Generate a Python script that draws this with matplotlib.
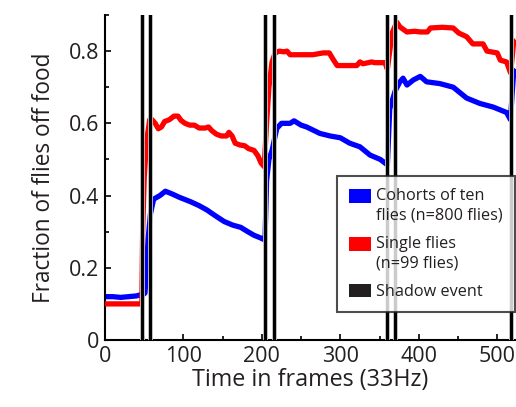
import matplotlib
matplotlib.use("Agg")
import matplotlib.pyplot as plt
import matplotlib.patheffects as pe
from matplotlib.patches import Patch, Rectangle
from matplotlib.legend_handler import HandlerBase
from matplotlib.ticker import MultipleLocator

# Fraction of flies off food over time (frames at 33 Hz)
cohort_frames = [0, 10, 20, 30, 40, 45, 48, 51, 55, 58, 62, 70, 77, 85, 95, 109, 120, 130,
                 140, 152, 163, 173, 182, 190, 198, 204, 206, 209, 213, 219, 225, 236, 241,
                 250, 257, 274, 287, 300, 312, 325, 338, 351, 357, 360, 363, 370, 376, 380,
                 385, 393, 402, 410, 427, 444, 461, 478, 495, 512, 517, 519, 521, 524]
cohort_vals = [0.12, 0.12, 0.118, 0.12, 0.122, 0.125, 0.125, 0.13, 0.28, 0.35, 0.39, 0.40, 0.412,
               0.405, 0.395, 0.383, 0.372, 0.36, 0.345, 0.328, 0.318, 0.312, 0.30, 0.29, 0.283,
               0.277, 0.44, 0.50, 0.525, 0.586, 0.60, 0.60, 0.607, 0.595, 0.59, 0.572, 0.565,
               0.56, 0.545, 0.535, 0.512, 0.50, 0.49, 0.485, 0.64, 0.69, 0.715, 0.725, 0.706,
               0.72, 0.73, 0.715, 0.71, 0.70, 0.67, 0.655, 0.645, 0.63, 0.61, 0.68, 0.74, 0.75]

single_frames = [0, 47, 48, 50, 53, 57, 60, 64, 68, 72, 76, 82, 88, 93, 97, 102, 108, 114, 120,
                 128, 132, 136, 142, 148, 155, 158, 162, 166, 172, 178, 183, 190, 195, 199, 203,
                 206, 209, 213, 217, 222, 228, 232, 236, 245, 255, 265, 278, 286, 290, 296, 305,
                 321, 325, 329, 340, 344, 357, 360, 363, 366, 372, 376, 385, 395, 402, 411, 415,
                 430, 444, 451, 461, 469, 482, 487, 500, 504, 512, 517, 519, 521, 524]
single_vals = [0.10, 0.10, 0.30, 0.45, 0.55, 0.61, 0.61, 0.60, 0.585, 0.59, 0.605, 0.61, 0.62,
               0.62, 0.608, 0.60, 0.595, 0.595, 0.587, 0.587, 0.59, 0.58, 0.57, 0.565, 0.565,
               0.575, 0.565, 0.545, 0.54, 0.538, 0.53, 0.525, 0.51, 0.49, 0.48, 0.60, 0.70,
               0.77, 0.795, 0.80, 0.798, 0.80, 0.79, 0.79, 0.79, 0.79, 0.795, 0.795, 0.78,
               0.76, 0.76, 0.76, 0.77, 0.765, 0.77, 0.768, 0.768, 0.75, 0.80, 0.85, 0.88,
               0.867, 0.853, 0.855, 0.853, 0.853, 0.864, 0.866, 0.864, 0.85, 0.84, 0.82, 0.82,
               0.80, 0.795, 0.775, 0.77, 0.74, 0.78, 0.825, 0.83]

shadow_frames = [47, 57, 204, 215, 360, 370, 518]

x_ticks = [0, 100, 200, 300, 400, 500]
y_ticks = [0, 0.2, 0.4, 0.6, 0.8]
y_tick_labels = ["0", "0.2", "0.4", "0.6", "0.8"]

plt.rcParams["font.family"] = ["Open Sans", "DejaVu Sans"]
text_color = "#231f20"


class TopAlignedSwatch(HandlerBase):
    """Square swatch raised to sit beside the first line of a label."""

    def __init__(self, lift=0.0):
        super().__init__()
        self.lift = lift

    def create_artists(self, legend, orig_handle, xdescent, ydescent, width, height,
                       fontsize, trans):
        rect = Rectangle((-xdescent, -ydescent + self.lift * fontsize), width, height,
                         facecolor=orig_handle.get_facecolor(), edgecolor="none",
                         transform=trans)
        return [rect]


fig = plt.figure(figsize=(5.16, 4.07), dpi=100)
ax = fig.add_axes([105 / 516, 67 / 407, 411 / 516, 325 / 407])

ax.plot(cohort_frames, cohort_vals, color="#0000ff", lw=3.8, solid_joinstyle="round",
        solid_capstyle="butt", zorder=2)
ax.plot(single_frames, single_vals, color="#ff0000", lw=3.8, solid_joinstyle="round",
        solid_capstyle="butt", zorder=3)

for f in shadow_frames:
    ax.axvline(f, color="black", lw=2.0, zorder=4,
               path_effects=[pe.withStroke(linewidth=3.5, foreground="#bbbbbb"), pe.Normal()])

ax.set_xlim(0, 524)
ax.set_ylim(0, 0.9)
ax.set_xticks(x_ticks)
ax.set_yticks(y_ticks)
ax.set_yticklabels(y_tick_labels)
ax.xaxis.set_minor_locator(MultipleLocator(50))
ax.yaxis.set_minor_locator(MultipleLocator(0.1))
ax.tick_params(which="both", direction="in", length=4, width=1.2, colors="black",
               labelcolor=text_color, labelsize=15.5, pad=4)
ax.tick_params(which="minor", length=3)

for side in ("top", "right"):
    ax.spines[side].set_visible(False)
for side in ("left", "bottom"):
    ax.spines[side].set_linewidth(1.5)

ax.set_xlabel("Time in frames (33Hz)", fontsize=16.8, color=text_color, labelpad=1)
ax.set_ylabel("Fraction of flies off food", fontsize=16.3, color=text_color, labelpad=9)

blue_patch = Patch(facecolor="#0000ff")
red_patch = Patch(facecolor="#ff0000")
black_patch = Patch(facecolor="#231f20")
handles = [blue_patch, red_patch, black_patch]
labels = ["Cohorts of ten\nflies (n=800 flies)", "Single flies\n(n=99 flies)", "Shadow event"]
leg = ax.legend(handles, labels, loc="upper left", bbox_to_anchor=(0.565, 0.505),
                fontsize=11.7, frameon=True, fancybox=False, handlelength=1.3,
                handleheight=0.9, handletextpad=0.35, labelspacing=0.75,
                borderpad=0.75, borderaxespad=0,
                handler_map={blue_patch: TopAlignedSwatch(0.62),
                             red_patch: TopAlignedSwatch(0.62),
                             black_patch: TopAlignedSwatch(0.0)})
leg.get_frame().set_edgecolor("#231f20")
leg.get_frame().set_linewidth(1.5)
leg.set_zorder(5)
for t in leg.get_texts():
    t.set_color(text_color)
    t.set_linespacing(1.3)

fig.savefig("out.png", dpi=100)
